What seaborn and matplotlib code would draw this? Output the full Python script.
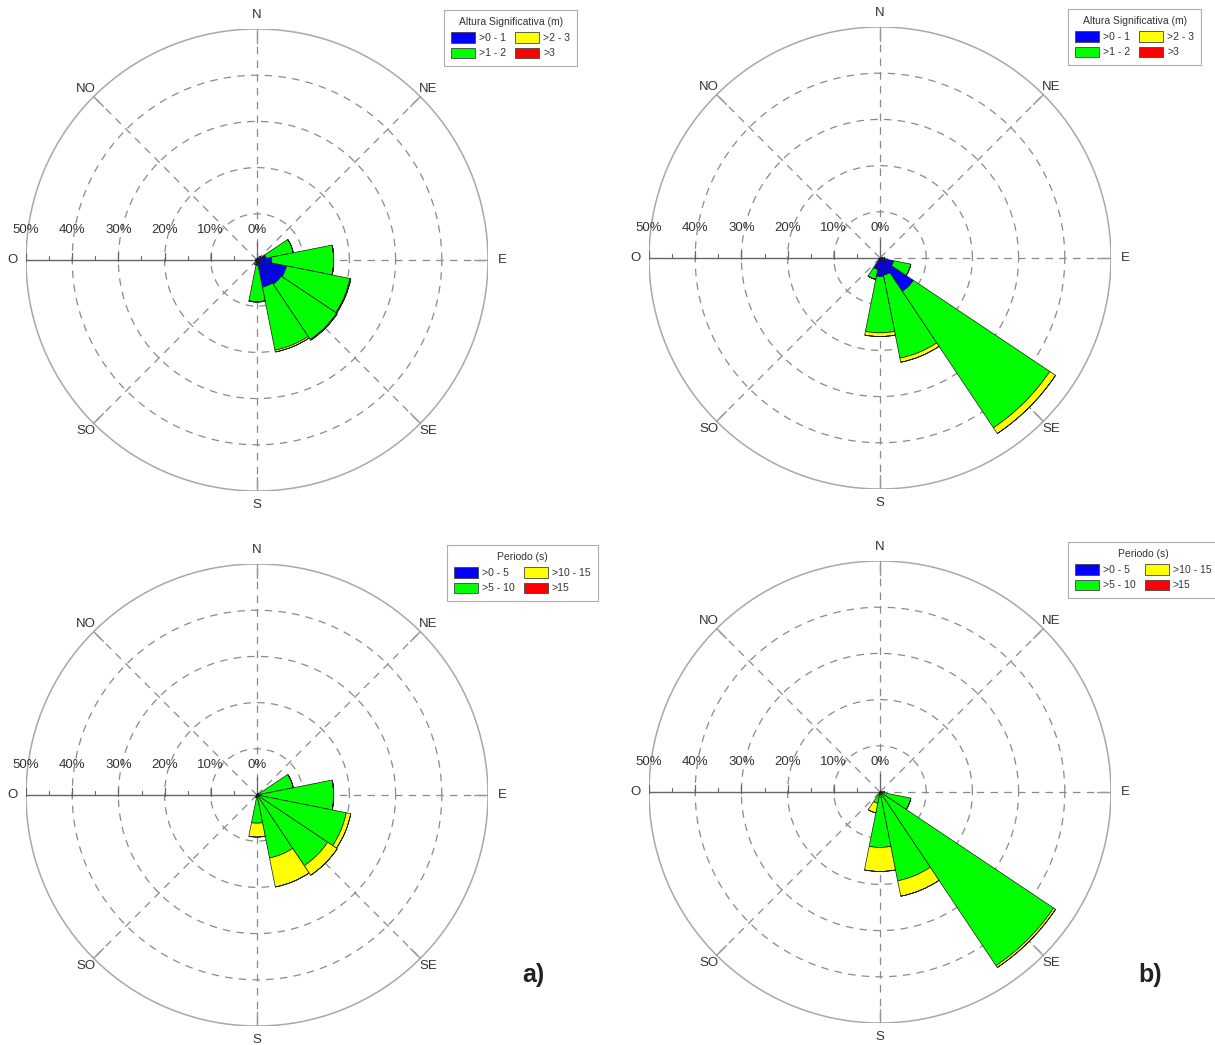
import matplotlib
matplotlib.use("Agg")
import matplotlib.pyplot as plt
from matplotlib.patches import Patch
import numpy as np
import seaborn as sns

sns.set_style("white")
plt.rcParams["font.family"] = ["Liberation Sans", "DejaVu Sans"]

# 16 sectors, clockwise from north (Portuguese compass names)
DIRS = ["N", "NNE", "NE", "ENE", "E", "ESE", "SE", "SSE",
        "S", "SSO", "SO", "OSO", "O", "ONO", "NO", "NNO"]

# ---- a) Altura significativa (%), one value per sector ----
hs_a_0_1 = [0.2, 0.3, 0.6, 2.0, 3.2, 6.5, 6.3, 6.0, 1.2, 0.5, 0.3, 0.3, 0.3, 0.2, 0.2, 0.2]
hs_a_1_2 = [0.0, 0.1, 0.4, 6.0, 13.4, 14.0, 14.4, 13.9, 7.8, 0.5, 0.0, 0.0, 0.0, 0.0, 0.0, 0.0]
hs_a_2_3 = [0.0, 0.0, 0.0, 0.0, 0.0, 0.2, 0.2, 0.4, 0.1, 0.0, 0.0, 0.0, 0.0, 0.0, 0.0, 0.0]
hs_a_3 = [0.0] * 16

# ---- a) Periodo (%) ----
tp_a_0_5 = [0.1, 0.1, 0.1, 0.2, 0.3, 0.4, 0.4, 0.3, 0.2, 0.1, 0.1, 0.1, 0.1, 0.1, 0.1, 0.1]
tp_a_5_10 = [0.0, 0.1, 0.3, 7.8, 16.3, 19.3, 18.0, 13.6, 5.9, 0.5, 0.0, 0.0, 0.0, 0.0, 0.0, 0.0]
tp_a_10_15 = [0.0, 0.0, 0.0, 0.0, 0.0, 1.0, 2.5, 6.4, 3.0, 0.0, 0.0, 0.0, 0.0, 0.0, 0.0, 0.0]
tp_a_15 = [0.0] * 16

# ---- b) Altura significativa (%) ----
hs_b_0_1 = [0.0, 0.0, 0.0, 0.0, 0.5, 3.0, 8.7, 3.8, 4.0, 2.5, 0.3, 0.0, 0.0, 0.0, 0.0, 0.0]
hs_b_1_2 = [0.0, 0.0, 0.0, 0.0, 0.5, 3.8, 35.5, 18.3, 12.2, 2.2, 0.0, 0.0, 0.0, 0.0, 0.0, 0.0]
hs_b_2_3 = [0.0, 0.0, 0.0, 0.0, 0.0, 0.0, 1.5, 0.9, 0.8, 0.0, 0.0, 0.0, 0.0, 0.0, 0.0, 0.0]
hs_b_3 = [0.0] * 16

# ---- b) Periodo (%) ----
tp_b_0_5 = [0.0, 0.0, 0.0, 0.1, 0.2, 0.4, 0.6, 0.3, 0.2, 0.1, 0.0, 0.0, 0.0, 0.0, 0.0, 0.0]
tp_b_5_10 = [0.0, 0.0, 0.0, 0.0, 0.8, 6.4, 44.6, 19.3, 11.8, 2.4, 0.0, 0.0, 0.0, 0.0, 0.0, 0.0]
tp_b_10_15 = [0.0, 0.0, 0.0, 0.0, 0.0, 0.0, 0.5, 3.4, 5.2, 2.1, 0.0, 0.0, 0.0, 0.0, 0.0, 0.0]
tp_b_15 = [0.0] * 16

HS_LABELS = [">0 - 1", ">1 - 2", ">2 - 3", ">3"]
TP_LABELS = [">0 - 5", ">5 - 10", ">10 - 15", ">15"]
RINGS = [10, 20, 30, 40, 50]
COMPASS = {"N": 0, "NE": 45, "E": 90, "SE": 135, "S": 180, "SO": 225, "O": 270, "NO": 315}

COLORS = sns.color_palette(["#0000ff", "#00ff00", "#ffff00", "#ff0000"])
TXT = "#333333"
GRID = "#8a8a8a"
DASH = (0, (6, 5))


def rose(rect, classes, title, labels, leg_xy):
    # cartesian layer for rings, radial lines, scale and compass labels
    ax0 = fig.add_axes(rect)
    ax0.set_xlim(-50, 50)
    ax0.set_ylim(-50, 50)
    ax0.set_aspect("equal")
    ax0.axis("off")
    t = np.linspace(0, 2 * np.pi, 500)
    for r in RINGS[:-1]:
        ax0.plot(r * np.cos(t), r * np.sin(t), color=GRID, lw=0.9, ls=DASH)
    ax0.plot(50 * np.cos(t), 50 * np.sin(t), color="#a8a8a8", lw=1.1)
    for name, a in COMPASS.items():
        s, c = np.sin(np.deg2rad(a)), np.cos(np.deg2rad(a))
        if name != "O":
            ax0.plot([0, 50 * s], [0, 50 * c], color=GRID, lw=0.9, ls=DASH)
            ax0.plot([47 * s, 50 * s], [47 * c, 50 * c], color="#999999", lw=1.0)
        rr = 53.0 if a % 90 == 0 else 52.3
        ax0.text(rr * s, rr * c, name, ha="center", va="center", fontsize=9.5, color=TXT)
    # radial scale along the west axis
    ax0.plot([-50, 0], [0, 0], color="#666666", lw=1.0)
    ax0.plot([0, 0], [0, 4.0], color="#666666", lw=0.9)
    for r in RINGS:
        ax0.plot([-r, -r], [-0.2, 1.5], color="#666666", lw=0.9)
    for r in [0] + RINGS:
        ax0.text(-r, 6.4, f"{r}%", ha="center", va="center", fontsize=9.5, color=TXT)
    for r in range(5, 50, 10):
        ax0.plot([-r, -r], [0, 0.8], color="#666666", lw=0.8)

    # polar layer with the stacked sectors
    axp = fig.add_axes(rect, projection="polar")
    axp.set_facecolor("none")
    axp.set_theta_zero_location("N")
    axp.set_theta_direction(-1)
    axp.set_ylim(0, 50)
    axp.axis("off")
    theta = np.deg2rad(np.arange(len(DIRS)) * 22.5)
    width = 2 * np.pi / len(DIRS)
    bottom = np.zeros(len(DIRS))
    for vals, col in zip(classes, COLORS):
        vals = np.asarray(vals)
        axp.bar(theta, vals, width=width, bottom=bottom, color=col,
                edgecolor="#1a1a1a", linewidth=0.5, align="center")
        bottom += vals

    handles = [Patch(facecolor=c, edgecolor="#444444", lw=0.6) for c in COLORS]
    leg = fig.legend(handles, labels, title=title, ncol=2, loc="upper left",
                     bbox_to_anchor=leg_xy, bbox_transform=fig.transFigure,
                     borderaxespad=0, fontsize=7.5, title_fontsize=7.5,
                     frameon=True, fancybox=False, edgecolor="#999999",
                     handlelength=2.3, handleheight=1.2, columnspacing=0.9,
                     labelspacing=0.45, borderpad=0.7, handletextpad=0.35)
    leg.get_frame().set_linewidth(0.8)
    for txt in leg.get_texts():
        txt.set_color(TXT)
    leg.get_title().set_color(TXT)


fig = plt.figure(figsize=(12.15, 10.45), dpi=100)
W, H = 1215, 1045
R = 231


def rect_at(cx, cy):
    return [(cx - R) / W, 1 - (cy + R) / H, 2 * R / W, 2 * R / H]


rose(rect_at(257, 260), [hs_a_0_1, hs_a_1_2, hs_a_2_3, hs_a_3],
     "Altura Significativa (m)", HS_LABELS, (444 / W, 1 - 10 / H))
rose(rect_at(880, 258), [hs_b_0_1, hs_b_1_2, hs_b_2_3, hs_b_3],
     "Altura Significativa (m)", HS_LABELS, (1068 / W, 1 - 9 / H))
rose(rect_at(257, 795), [tp_a_0_5, tp_a_5_10, tp_a_10_15, tp_a_15],
     "Periodo (s)", TP_LABELS, (447 / W, 1 - 545 / H))
rose(rect_at(880, 792), [tp_b_0_5, tp_b_5_10, tp_b_10_15, tp_b_15],
     "Periodo (s)", TP_LABELS, (1068 / W, 1 - 542 / H))

for x, s in [(533, "a)"), (1150, "b)")]:
    fig.text(x / W, 1 - 975 / H, s, ha="center", va="center", fontsize=18,
             fontweight="bold", color="#222222",
             family=["Liberation Sans Narrow", "Liberation Sans", "DejaVu Sans"])

fig.savefig("out.png", dpi=100)
